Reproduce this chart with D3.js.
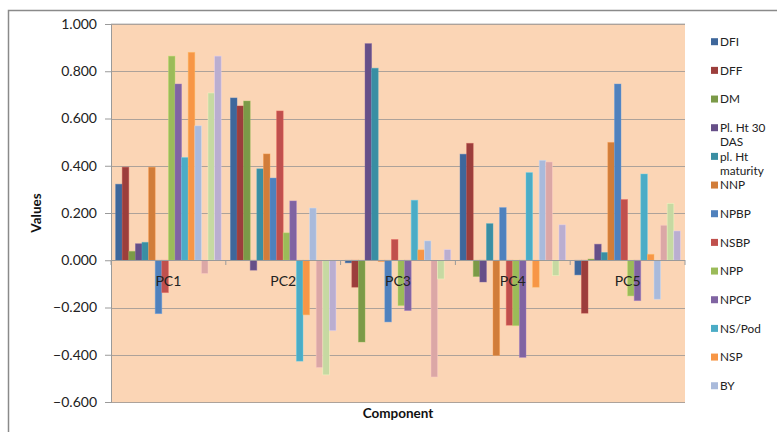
<!DOCTYPE html>
<html>
<head>
<meta charset="utf-8">
<script src="https://cdn.jsdelivr.net/npm/d3@7"></script>
<style>
  html, body { margin: 0; padding: 0; background: #ffffff; }
  svg { display: block; }
  text { font-family: Lato, "Open Sans", sans-serif; }
</style>
</head>
<body>
<svg id="chart" width="777" height="432"></svg>
<script>
// Principal component loadings of the traits
const components = ["PC1", "PC2", "PC3", "PC4", "PC5"];

const traits = [
  "DFI", "DFF", "DM", "Pl. Ht 30 DAS", "pl. Ht maturity", "NNP", "NPBP", "NSBP",
  "NPP", "NPCP", "NS/Pod", "NSP", "BY", "HI", "TW", "SY"
];

const traitColors = [
  "#3e679b", "#9c3e3c", "#7b9a48", "#664f88", "#3a8ea3", "#d17d3a", "#4f81bd", "#c0504d",
  "#9bbb59", "#8064a2", "#4bacc6", "#f79646", "#a9badb", "#dba7a6", "#c6d9a2", "#baaed0"
];

// one array per trait, values for PC1..PC5
const loadDFI    = [ 0.322,  0.687, -0.011,  0.449, -0.062];
const loadDFF    = [ 0.394,  0.653, -0.114,  0.495, -0.224];
const loadDM     = [ 0.038,  0.674, -0.346, -0.069,  0.005];
const loadPlHt30 = [ 0.070, -0.042,  0.917, -0.092,  0.068];
const loadPlHtMt = [ 0.076,  0.387,  0.813,  0.155,  0.033];
const loadNNP    = [ 0.394,  0.450, -0.005, -0.403,  0.499];
const loadNPBP   = [-0.226,  0.348, -0.261,  0.223,  0.746];
const loadNSBP   = [-0.137,  0.632,  0.088, -0.275,  0.257];
const loadNPP    = [ 0.864,  0.116, -0.192, -0.277, -0.151];
const loadNPCP   = [ 0.746,  0.251, -0.213, -0.411, -0.171];
const loadNSPod  = [ 0.435, -0.427,  0.254,  0.371,  0.365];
const loadNSP    = [ 0.880, -0.231,  0.044, -0.114,  0.025];
const loadBY     = [ 0.569,  0.221,  0.082,  0.423, -0.165];
const loadHI     = [-0.056, -0.454, -0.494,  0.416,  0.148];
const loadTW     = [ 0.708, -0.485, -0.079, -0.065,  0.240];
const loadSY     = [ 0.864, -0.298,  0.045,  0.150,  0.124];

const loadings = [
  loadDFI, loadDFF, loadDM, loadPlHt30, loadPlHtMt, loadNNP, loadNPBP, loadNSBP,
  loadNPP, loadNPCP, loadNSPod, loadNSP, loadBY, loadHI, loadTW, loadSY
];

const yTicks = [-0.6, -0.4, -0.2, 0, 0.2, 0.4, 0.6, 0.8, 1.0];

const svg = d3.select("#chart");
const plot = { left: 111, right: 685, top: 24, bottom: 402 };

// chart frame
svg.append("path")
  .attr("d", `M8.5,432 V10.5 H777`)
  .attr("fill", "none")
  .attr("stroke", "#8a8a8a")
  .attr("stroke-width", 1.5);

// plot background
svg.append("rect")
  .attr("x", plot.left).attr("y", plot.top - 1)
  .attr("width", plot.right - plot.left).attr("height", plot.bottom - plot.top + 1)
  .attr("fill", "#dcdcdc");
svg.append("rect")
  .attr("x", plot.left).attr("y", plot.top)
  .attr("width", plot.right - plot.left).attr("height", plot.bottom - plot.top)
  .attr("fill", "#fbd5b5");

const x0 = d3.scaleBand().domain(components).range([plot.left, plot.right]).padding(0);
const x1 = d3.scaleBand().domain(traits).range([0, x0.bandwidth()]).paddingInner(0).paddingOuter(0.7);
const y = d3.scaleLinear().domain([-0.6, 1.0]).range([plot.bottom, plot.top]);

// gridlines
svg.append("g").selectAll("line").data(yTicks).join("line")
  .attr("x1", plot.left).attr("x2", plot.right)
  .attr("y1", d => Math.round(y(d)) + 0.5).attr("y2", d => Math.round(y(d)) + 0.5)
  .attr("stroke", "#ada29a").attr("stroke-width", 1);

// y axis
const yAxis = d3.axisLeft(y).tickValues(yTicks).tickFormat(d3.format(".3f")).tickSize(6).tickPadding(8);
const gy = svg.append("g").attr("transform", `translate(${plot.left},0)`).call(yAxis);
gy.select(".domain").attr("stroke", "#9a9a9a");
gy.selectAll(".tick line").attr("stroke", "#9a9a9a");
gy.selectAll(".tick text").attr("font-size", 14).attr("fill", "#222");

// bars
const groups = svg.append("g").selectAll("g").data(components).join("g")
  .attr("transform", d => `translate(${x0(d)},0)`);

groups.selectAll("rect")
  .data((c, ci) => traits.map((t, ti) => ({ trait: t, ti, value: loadings[ti][ci] })))
  .join("rect")
  .attr("x", d => x1(d.trait))
  .attr("width", x1.bandwidth())
  .attr("y", d => y(Math.max(0, d.value)))
  .attr("height", d => Math.abs(y(d.value) - y(0)))
  .attr("fill", d => traitColors[d.ti])
  .attr("stroke", d => d3.color(traitColors[d.ti]).brighter(0.6))
  .attr("stroke-opacity", 0.5)
  .attr("stroke-width", 0.8);

// category axis along zero
const xAxis = d3.axisBottom(x0).tickSize(0).tickPadding(0);
svg.append("line")
  .attr("x1", plot.left).attr("x2", plot.right)
  .attr("y1", Math.round(y(0)) + 0.5).attr("y2", Math.round(y(0)) + 0.5)
  .attr("stroke", "#9a9a9a");
svg.append("g").selectAll("line").data(d3.range(components.length + 1)).join("line")
  .attr("x1", i => plot.left + i * x0.step()).attr("x2", i => plot.left + i * x0.step())
  .attr("y1", Math.round(y(0))).attr("y2", Math.round(y(0)) + 5)
  .attr("stroke", "#9a9a9a");
const gx = svg.append("g").attr("transform", `translate(0,${y(0)})`).call(xAxis);
gx.select(".domain").remove();
gx.selectAll(".tick text")
  .attr("dy", 0).attr("y", 26)
  .attr("font-size", 14).attr("fill", "#222");

// axis titles
svg.append("text")
  .attr("transform", `translate(41,${(plot.top + plot.bottom) / 2}) rotate(-90)`)
  .attr("text-anchor", "middle")
  .attr("font-size", 13.5).attr("font-weight", "bold").attr("fill", "#111")
  .text("Values");
svg.append("text")
  .attr("x", (plot.left + plot.right) / 2).attr("y", 418)
  .attr("text-anchor", "middle")
  .attr("font-size", 13.5).attr("font-weight", "bold").attr("fill", "#111")
  .text("Component");

// legend: entries are laid out in fixed slots; slots below the legend box are dropped
const legendTop = 41.7, legendStep = 28.67, legendLimit = 395, lineGap = 14.33;
const legendLines = {
  "Pl. Ht 30 DAS": ["Pl. Ht 30", "DAS"],
  "pl. Ht maturity": ["pl. Ht", "maturity"]
};
const legendItems = traits
  .map((t, i) => ({ t, i, yy: legendTop + i * legendStep }))
  .filter(d => d.yy < legendLimit);

const lg = svg.append("g").selectAll("g").data(legendItems).join("g")
  .attr("transform", d => `translate(711,${d.yy})`);
lg.append("rect")
  .attr("x", 0).attr("y", -3.5).attr("width", 7).attr("height", 7)
  .attr("fill", d => traitColors[d.i]);
lg.each(function (d) {
  const lines = legendLines[d.t] || [d.t];
  d3.select(this).selectAll("text").data(lines).join("text")
    .attr("x", 9)
    .attr("y", (s, k) => k * lineGap)
    .attr("dy", "0.35em")
    .attr("font-size", 11.8).attr("fill", "#222")
    .text(s => s);
});
</script>
</body>
</html>
